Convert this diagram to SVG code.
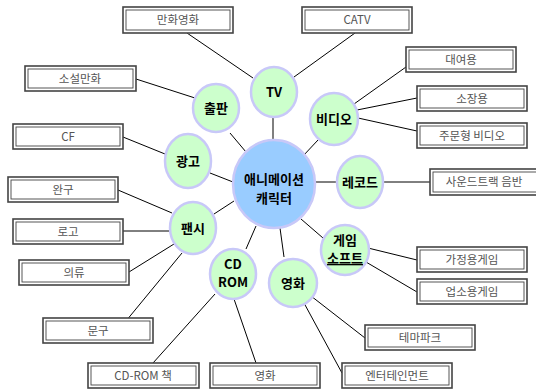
<svg xmlns="http://www.w3.org/2000/svg" width="536" height="392" viewBox="0 0 536 392">
<defs>
<style>
.bo{fill:#fff;stroke:#444;stroke-width:1.6}
.bi{fill:none;stroke:#444;stroke-width:0.9}
.bt{font-family:"Noto Sans CJK KR","Noto Sans",sans-serif;font-size:11.5px;fill:#555;text-anchor:middle}
.c{fill:#ccffcc;stroke:#c8c8f8;stroke-width:2.5}
.cc{fill:#99ccff;stroke:#c8c8f8;stroke-width:2.5}
.ct{font-family:"Noto Sans CJK KR","Noto Sans",sans-serif;font-size:13px;font-weight:bold;fill:#000;text-anchor:middle}
.ln{stroke:#000;stroke-width:1;fill:none}
</style>
</defs>
<rect width="536" height="392" fill="#fff"/>
<g id="connectors" class="ln">
<line x1="187" y1="33" x2="253" y2="78"/>
<line x1="355" y1="33" x2="294" y2="77"/>
<line x1="273" y1="118" x2="273" y2="140"/>
<line x1="136" y1="79" x2="195" y2="98"/>
<line x1="230" y1="133" x2="246" y2="152"/>
<line x1="123" y1="137" x2="165" y2="154"/>
<line x1="210" y1="173" x2="233" y2="182"/>
<line x1="406" y1="67" x2="354" y2="104"/>
<line x1="417" y1="98" x2="357" y2="110"/>
<line x1="417" y1="131" x2="358" y2="118"/>
<line x1="318" y1="140" x2="303" y2="156"/>
<line x1="316" y1="182" x2="336" y2="182"/>
<line x1="384" y1="182" x2="430" y2="182"/>
<line x1="301" y1="219" x2="323" y2="238"/>
<line x1="368" y1="248" x2="417" y2="260"/>
<line x1="366" y1="262" x2="417" y2="292"/>
<line x1="280" y1="228" x2="284" y2="257"/>
<line x1="311" y1="296" x2="365" y2="338"/>
<line x1="304" y1="303" x2="342" y2="373"/>
<line x1="118" y1="190" x2="172" y2="213"/>
<line x1="214" y1="214" x2="234" y2="201"/>
<line x1="123" y1="231" x2="169" y2="231"/>
<line x1="129" y1="272" x2="174" y2="244"/>
<line x1="126" y1="321" x2="182" y2="253"/>
<line x1="246" y1="249" x2="256" y2="226"/>
<line x1="153" y1="363" x2="215" y2="294"/>
<line x1="256" y1="363" x2="234" y2="299"/>
</g>
<g id="box-manhwa"><rect class="bo" x="123" y="7" width="110" height="26"/><rect class="bi" x="126" y="10" width="104" height="20"/><text class="bt" x="178" y="24">만화영화</text></g>
<g id="box-catv"><rect class="bo" x="302" y="7" width="110" height="26"/><rect class="bi" x="305" y="10" width="104" height="20"/><text class="bt" x="357" y="24">CATV</text></g>
<g id="box-soseol"><rect class="bo" x="25" y="66" width="111" height="25"/><rect class="bi" x="28" y="69" width="105" height="19"/><text class="bt" x="80" y="83">소설만화</text></g>
<g id="box-daeyeo"><rect class="bo" x="406" y="47" width="110" height="25"/><rect class="bi" x="409" y="50" width="104" height="19"/><text class="bt" x="461" y="64">대여용</text></g>
<g id="box-sojang"><rect class="bo" x="417" y="86" width="110" height="25"/><rect class="bi" x="420" y="89" width="104" height="19"/><text class="bt" x="472" y="103">소장용</text></g>
<g id="box-cf"><rect class="bo" x="13" y="124" width="110" height="25"/><rect class="bi" x="16" y="127" width="104" height="19"/><text class="bt" x="68" y="141">CF</text></g>
<g id="box-jumun"><rect class="bo" x="417" y="123" width="110" height="25"/><rect class="bi" x="420" y="126" width="104" height="19"/><text class="bt" x="472" y="140">주문형 비디오</text></g>
<g id="box-sound"><rect class="bo" x="430" y="169" width="110" height="26"/><rect class="bi" x="433" y="172" width="104" height="20"/><text class="bt" x="484" y="186">사운드트랙 음반</text></g>
<g id="box-wangu"><rect class="bo" x="8" y="177" width="110" height="25"/><rect class="bi" x="11" y="180" width="104" height="19"/><text class="bt" x="63" y="194">완구</text></g>
<g id="box-logo"><rect class="bo" x="13" y="219" width="110" height="25"/><rect class="bi" x="16" y="222" width="104" height="19"/><text class="bt" x="68" y="236">로고</text></g>
<g id="box-uiryu"><rect class="bo" x="19" y="260" width="110" height="25"/><rect class="bi" x="22" y="263" width="104" height="19"/><text class="bt" x="74" y="277">의류</text></g>
<g id="box-gajeong"><rect class="bo" x="417" y="247" width="110" height="25"/><rect class="bi" x="420" y="250" width="104" height="19"/><text class="bt" x="472" y="264">가정용게임</text></g>
<g id="box-upso"><rect class="bo" x="417" y="279" width="110" height="25"/><rect class="bi" x="420" y="282" width="104" height="19"/><text class="bt" x="472" y="296">업소용게임</text></g>
<g id="box-mungu"><rect class="bo" x="43" y="318" width="110" height="25"/><rect class="bi" x="46" y="321" width="104" height="19"/><text class="bt" x="98" y="335">문구</text></g>
<g id="box-theme"><rect class="bo" x="365" y="325" width="110" height="25"/><rect class="bi" x="368" y="328" width="104" height="19"/><text class="bt" x="420" y="342">테마파크</text></g>
<g id="box-cdbook"><rect class="bo" x="88" y="363" width="111" height="25"/><rect class="bi" x="91" y="366" width="105" height="19"/><text class="bt" x="143" y="380">CD-ROM 책</text></g>
<g id="box-movie"><rect class="bo" x="210" y="363" width="110" height="25"/><rect class="bi" x="213" y="366" width="104" height="19"/><text class="bt" x="265" y="380">영화</text></g>
<g id="box-enter"><rect class="bo" x="342" y="363" width="110" height="25"/><rect class="bi" x="345" y="366" width="104" height="19"/><text class="bt" x="397" y="380">엔터테인먼트</text></g>
<g id="node-center"><ellipse class="cc" cx="274" cy="184" rx="41" ry="44"/><text class="ct" x="274" y="184" font-size="14">애니메이션</text><text class="ct" x="274" y="203" font-size="14">캐릭터</text></g>
<g id="node-tv"><ellipse class="c" cx="274" cy="92" rx="23" ry="25"/><text class="ct" x="274" y="97">TV</text></g>
<g id="node-chulpan"><ellipse class="c" cx="216" cy="108" rx="23" ry="24"/><text class="ct" x="216" y="113">출판</text></g>
<g id="node-video"><ellipse class="c" cx="334" cy="119" rx="24" ry="26"/><text class="ct" x="334" y="124">비디오</text></g>
<g id="node-ad"><ellipse class="c" cx="188" cy="161" rx="23" ry="27"/><text class="ct" x="188" y="166">광고</text></g>
<g id="node-record"><ellipse class="c" cx="360" cy="182" rx="23" ry="26"/><text class="ct" x="360" y="187">레코드</text></g>
<g id="node-fancy"><ellipse class="c" cx="193" cy="228" rx="23" ry="26"/><text class="ct" x="193" y="233">팬시</text></g>
<g id="node-game"><ellipse class="c" cx="345" cy="250" rx="24" ry="25"/><text class="ct" x="345" y="245" font-size="12.5">게임</text><text class="ct" x="345" y="263" font-size="12.5" text-decoration="underline">소프트</text></g>
<g id="node-cdrom"><ellipse class="c" cx="233" cy="274" rx="23" ry="25"/><text class="ct" x="233" y="269" font-size="12.5">CD</text><text class="ct" x="233" y="287" font-size="12.5">ROM</text></g>
<g id="node-movie"><ellipse class="c" cx="293" cy="283" rx="24" ry="24"/><text class="ct" x="293" y="288">영화</text></g>
</svg>
